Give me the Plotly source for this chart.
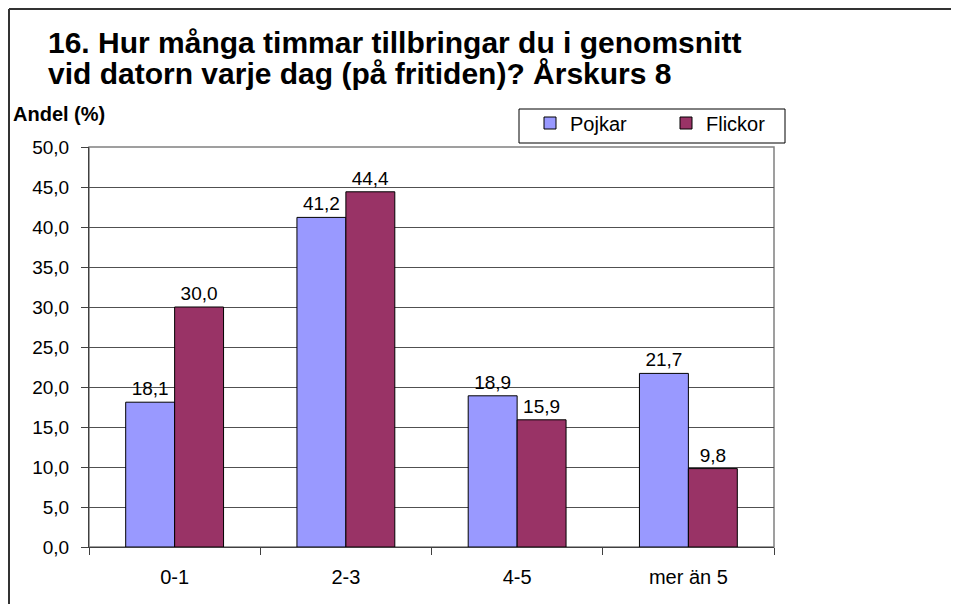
import plotly.graph_objects as go

# data
categories = ["0-1", "2-3", "4-5", "mer än 5"]
pojkar = [18.1, 41.2, 18.9, 21.7]
flickor = [30.0, 44.4, 15.9, 9.8]
y_ticks = [0, 5, 10, 15, 20, 25, 30, 35, 40, 45, 50]

FONT = "Arial, Liberation Sans, sans-serif"

# page body has an 8px margin, so figure pixels = page pixels - 8
OFF = 8
FW, FH = 959 - 2 * OFF, 612 - 2 * OFF
# plot area in page pixels: x 89..774, y 147..547
L, R, T, B = 89 - OFF, 774 - OFF, 147 - OFF, 547 - OFF
W, H = R - L, B - T


def px(x):
    return (x - OFF - L) / W


def py(y):
    return (B - (y - OFF)) / H


def lab(vals):
    return [f"{v:.1f}".replace(".", ",") for v in vals]


fig = go.Figure()
fig.add_trace(go.Bar(
    x=categories, y=pojkar, name="Pojkar",
    marker=dict(color="#9999FF", line=dict(color="black", width=1)),
    text=lab(pojkar), textposition="outside",
    textfont=dict(size=19, color="black", family=FONT), cliponaxis=False,
))
fig.add_trace(go.Bar(
    x=categories, y=flickor, name="Flickor",
    marker=dict(color="#993366", line=dict(color="black", width=1)),
    text=lab(flickor), textposition="outside",
    textfont=dict(size=19, color="black", family=FONT), cliponaxis=False,
))

fig.update_layout(
    width=FW, height=FH,
    margin=dict(l=L, r=FW - R, t=T, b=FH - B, pad=0),
    paper_bgcolor="white", plot_bgcolor="white",
    font=dict(family=FONT, size=19, color="black"),
    barmode="group", bargap=1.5 / 3.5, bargroupgap=0,
    separators=",.",
    showlegend=True,
    legend=dict(orientation="h", x=px(530), xanchor="left", y=py(123), yanchor="middle",
                bgcolor="rgba(0,0,0,0)", borderwidth=0,
                font=dict(size=20, family=FONT),
                entrywidth=91, entrywidthmode="pixels", traceorder="normal"),
)

fig.update_xaxes(
    type="category", showgrid=False, showline=True, linecolor="#404040", linewidth=1,
    ticks="outside", tickson="boundaries", ticklen=7, tickcolor="#404040",
    tickfont=dict(size=20), ticklabelstandoff=12, fixedrange=True,
)
fig.update_yaxes(
    range=[0, 50], tickvals=y_ticks, tickformat=".1f",
    showgrid=True, gridcolor="#505050", gridwidth=1,
    showline=True, linecolor="#404040", linewidth=1,
    ticks="outside", ticklen=7, tickcolor="#404040",
    tickfont=dict(size=19), ticklabelstandoff=8, zeroline=False, fixedrange=True,
)

# plot area border (gray)
fig.add_shape(type="rect", xref="paper", yref="paper", x0=0, x1=1, y0=0, y1=1,
              line=dict(color="#808080", width=1.5), layer="below")
# legend box
fig.add_shape(type="rect", xref="paper", yref="paper",
              x0=px(519), x1=px(785), y0=py(143), y1=py(109),
              line=dict(color="black", width=1))
# chart frame (left and top edges)
fig.add_shape(type="line", xref="paper", yref="paper",
              x0=px(9), x1=px(9), y0=py(9), y1=py(640), line=dict(color="#333333", width=2))
fig.add_shape(type="line", xref="paper", yref="paper",
              x0=px(9), x1=px(990), y0=py(9), y1=py(9), line=dict(color="#333333", width=2))

title_font = dict(size=30, family=FONT, color="black", weight="bold")
fig.add_annotation(
    text="16. Hur många timmar tillbringar du i genomsnitt",
    xref="paper", yref="paper", x=px(46), y=py(42), xanchor="left", yanchor="middle",
    showarrow=False, font=title_font,
)
fig.add_annotation(
    text="vid datorn varje dag (på fritiden)? Årskurs 8",
    xref="paper", yref="paper", x=px(46), y=py(74), xanchor="left", yanchor="middle",
    showarrow=False, font=title_font,
)
fig.add_annotation(
    text="<b>Andel (%)</b>", xref="paper", yref="paper", x=px(11), y=py(114),
    xanchor="left", yanchor="middle", showarrow=False, font=dict(size=20, family=FONT),
)

fig.write_html("out.html")
